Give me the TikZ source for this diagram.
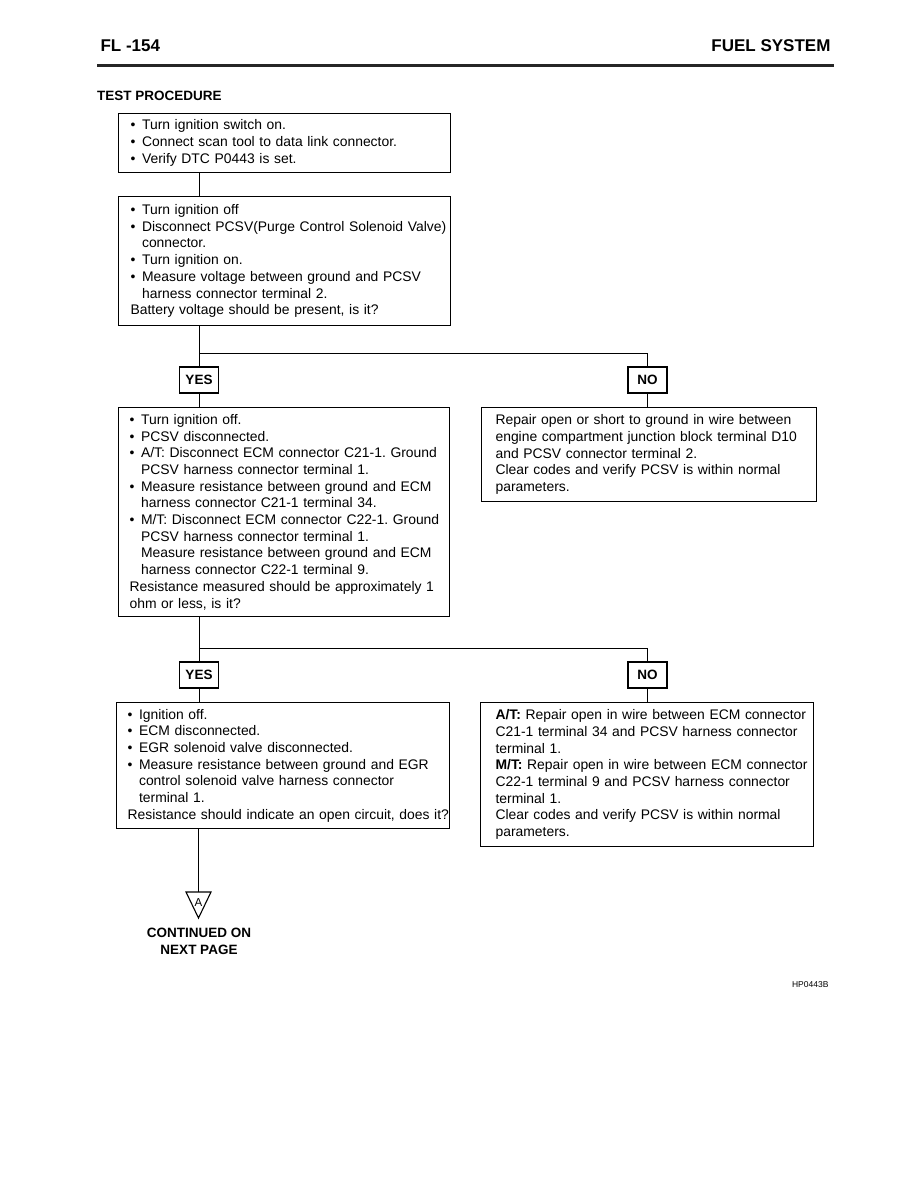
\documentclass[tikz,border=0pt]{standalone}
\usepackage{fontspec}
\setmainfont{Liberation Sans}
\usetikzlibrary{positioning,calc}
\frenchspacing

\newcommand{\bul}{\makebox[11.5pt][l]{\textbullet}}
\newcommand{\ind}{\hspace*{11.5pt}}

\begin{document}
\begin{tikzpicture}[x=1pt, y=-1pt,
  box/.style={draw, line width=1.1pt, anchor=north west, align=left, inner xsep=12pt, inner ysep=0pt, font=\fontsize{13.9}{16.7}\selectfont},
  tag/.style={draw, line width=1.1pt, minimum width=39pt, minimum height=26pt, inner sep=0pt, font=\fontsize{13.5}{16}\selectfont\bfseries},
  wire/.style={line width=0.9pt}]
\useasboundingbox (0,0) rectangle (918,1188);

% Page header
\node[anchor=base west, font=\fontsize{17}{18}\selectfont\bfseries] (page) at (97,52) {FL -154};
\node[anchor=base east, font=\fontsize{17}{18}\selectfont\bfseries] (title) at (834,52) {FUEL SYSTEM};
\draw[line width=3pt, black!85] (97,66) -- (834,66);
\node[anchor=base west, inner xsep=0pt, font=\fontsize{13.5}{16}\selectfont\bfseries] (proc) at (97,101) {TEST PROCEDURE};

% Checks
\node[box, text width=308pt, minimum height=59pt] (chk1) at (118,113) {\bul Turn ignition switch on.\\
\bul Connect scan tool to data link connector.\\
\bul Verify DTC P0443 is set.};

\node[box, text width=308pt, minimum height=129pt] (chk2) at (118,196) {\bul Turn ignition off\\
\bul \mbox{Disconnect PCSV(Purge Control Solenoid Valve)}\\
\ind connector.\\
\bul Turn ignition on.\\
\bul \mbox{Measure voltage between ground and PCSV}\\
\ind harness connector terminal 2.\\
\mbox{Battery voltage should be present, is it?}};

\node[box, inner xsep=11pt, text width=309pt, minimum height=209pt] (chk3) at (118,407) {\bul Turn ignition off.\\
\bul PCSV disconnected.\\
\bul \mbox{A/T: Disconnect ECM connector C21-1. Ground}\\
\ind PCSV harness connector terminal 1.\\
\bul \mbox{Measure resistance between ground and ECM}\\
\ind \mbox{harness connector C21-1 terminal 34.}\\
\bul \mbox{M/T: Disconnect ECM connector C22-1. Ground}\\
\ind PCSV harness connector terminal 1.\\
\ind \mbox{Measure resistance between ground and ECM}\\
\ind \mbox{harness connector C22-1 terminal 9.}\\
\mbox{Resistance measured should be approximately 1}\\
ohm or less, is it?};

\node[box, inner xsep=11pt, text width=311pt, minimum height=126pt] (chk5) at (116,702) {\bul Ignition off.\\
\bul ECM disconnected.\\
\bul EGR solenoid valve disconnected.\\
\bul \mbox{Measure resistance between ground and EGR}\\
\ind \mbox{control solenoid valve harness connector}\\
\ind terminal 1.\\
\mbox{Resistance should indicate an open circuit, does it?}};

% Repairs
\node[box, inner xsep=14pt, text width=307pt, minimum height=94pt] (rep1) at (481,407) {\mbox{Repair open or short to ground in wire between}\\
\mbox{engine compartment junction block terminal D10}\\
and PCSV connector terminal 2.\\
\mbox{Clear codes and verify PCSV is within normal}\\
parameters.};

\node[box, inner xsep=15pt, text width=303pt, minimum height=144pt] (rep2) at (480,702) {\mbox{\textbf{A/T:} Repair open in wire between ECM connector}\\
\mbox{C21-1 terminal 34 and PCSV harness connector}\\
terminal 1.\\
\mbox{\textbf{M/T:} Repair open in wire between ECM connector}\\
\mbox{C22-1 terminal 9 and PCSV harness connector}\\
terminal 1.\\
\mbox{Clear codes and verify PCSV is within normal}\\
parameters.};

% Answers
\node[tag] (yes1) at (199,380) {YES};
\node[tag] (no1) at (647.5,380) {NO};
\node[tag] (yes2) at (199,675) {YES};
\node[tag] (no2) at (647.5,675) {NO};
\coordinate (fork1) at (199,353);
\coordinate (fork2) at (199,648);

% Continuation mark
\coordinate (triTop) at (198.5,892);
\draw[line width=1.1pt] (triTop) ++(-12.5,0) -- ++(25,0) -- ++(-12.5,26) -- cycle;
\node[font=\fontsize{11.5}{12}\selectfont] (markA) at (198.5,902.5) {A};
\node[anchor=north, align=center, font=\fontsize{13.5}{17}\selectfont\bfseries] (cont) at (199,925) {CONTINUED ON\\NEXT PAGE};
\node[anchor=base east, font=\fontsize{8.5}{10}\selectfont] (figref) at (832,987) {HP0443B};

% Connections
\draw[wire] (chk1.south -| yes1) -- (chk2.north -| yes1);
\draw[wire] (chk2.south -| yes1) -- (yes1.north);
\draw[wire] (fork1) -- (fork1 -| no1) -- (no1.north);
\draw[wire] (yes1.south) -- (chk3.north -| yes1);
\draw[wire] (no1.south) -- (rep1.north -| no1);
\draw[wire] (chk3.south -| yes2) -- (yes2.north);
\draw[wire] (fork2) -- (fork2 -| no2) -- (no2.north);
\draw[wire] (yes2.south) -- (chk5.north -| yes2);
\draw[wire] (no2.south) -- (rep2.north -| no2);
\draw[wire] (chk5.south -| triTop) -- (triTop);

\end{tikzpicture}
\end{document}
